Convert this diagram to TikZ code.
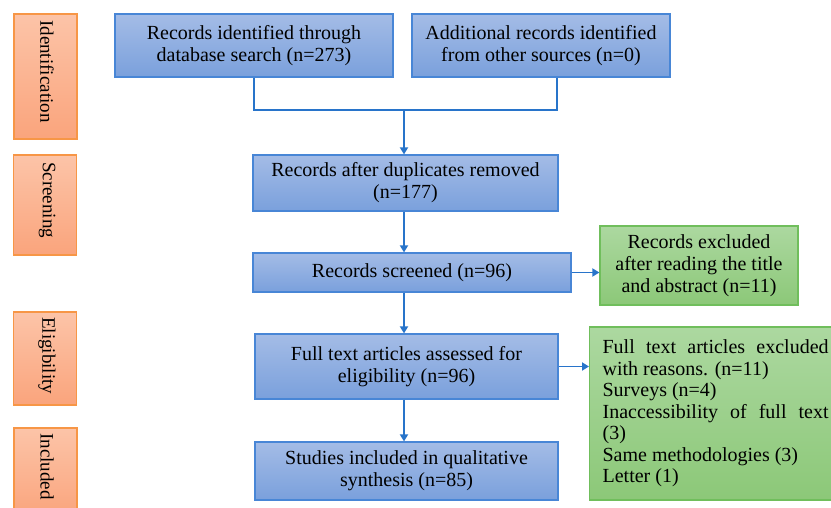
\documentclass[tikz,border=0pt]{standalone}
\usepackage{fontspec}
\setmainfont{Liberation Serif}
\usetikzlibrary{arrows.meta}
\definecolor{bluetop}{RGB}{164,188,230}
\definecolor{bluebot}{RGB}{122,160,220}
\definecolor{blueline}{RGB}{72,134,214}
\definecolor{orangetop}{RGB}{252,196,168}
\definecolor{orangebot}{RGB}{250,164,124}
\definecolor{orangeline}{RGB}{247,150,70}
\definecolor{greentop}{RGB}{172,216,160}
\definecolor{greenbot}{RGB}{140,200,120}
\definecolor{greenline}{RGB}{112,190,92}
\definecolor{arrowblue}{RGB}{40,116,202}
\begin{document}
\begin{tikzpicture}[x=1pt,y=-1pt,
  every node/.style={font=\fontsize{20}{22}\selectfont, inner sep=0pt},
  flowbox/.style={draw=blueline, line width=1.2pt, top color=bluetop, bottom color=bluebot, align=center},
  phasebox/.style={draw=orangeline, line width=1.2pt, top color=orangetop, bottom color=orangebot, minimum width=63pt},
  phaselabel/.style={rotate=-90, anchor=west, font=\fontsize{19}{21}\selectfont},
  exclbox/.style={draw=greenline, line width=1.2pt, top color=greentop, bottom color=greenbot},
  conn/.style={draw=arrowblue, line width=1.8pt},
  arr/.style={conn, -{Triangle[width=8pt,length=7pt]}}
]
\useasboundingbox (0,0) rectangle (831,507);
\clip (0,0) rectangle (831,507);

% phase boxes on the left
\node[phasebox, minimum height=125pt] (pid) at (45.5,76.5) {};
\node[phasebox, minimum height=100pt] (pscr) at (45,205) {};
\node[phasebox, minimum height=93pt] (pel) at (45,358.5) {};
\node[phasebox, minimum height=90pt] (pinc) at (45.5,473) {};
\node[phaselabel] (lid) at (47,20) {Identification};
\node[phaselabel] (lscr) at (47,162) {Screening};
\node[phaselabel] (lel) at (47,317) {Eligibility};
\node[phaselabel] (linc) at (47,433) {Included};

% flow boxes
\node[flowbox, minimum width=278pt, minimum height=63pt] (b1) at (254,45.5)
  {Records identified through\\database search (n=273)};
\node[flowbox, minimum width=258pt, minimum height=63pt] (b2) at (541,45.5)
  {Additional records identified\\from other sources (n=0)};
\node[flowbox, minimum width=305pt, minimum height=56pt] (b3) at (405.5,183)
  {Records after duplicates removed\\(n=177)};
\node[flowbox, minimum width=318pt, minimum height=39pt] (b4) at (412,272.5)
  {Records screened (n=96)};
\node[flowbox, minimum width=303pt, minimum height=65pt] (b5) at (406.5,366.5)
  {Full text articles assessed for\\eligibility (n=96)};
\node[flowbox, minimum width=303pt, minimum height=58pt] (b6) at (406.5,471)
  {Studies included in qualitative\\synthesis (n=85)};

% exclusion boxes
\node[exclbox, align=center, minimum width=198pt, minimum height=79pt] (g1) at (699,265.5)
  {Records excluded\\after reading the title\\and abstract (n=11)};
\node[exclbox, anchor=west, inner xsep=13pt, inner ysep=0pt, minimum height=173pt,
      text width=226pt, align=justify, font=\fontsize{20}{21.5}\selectfont] (g2) at (589,413.5)
  {Full text articles excluded\linebreak with reasons. (n=11)\par
   Surveys (n=4)\par
   Inaccessibility of full text\linebreak (3)\par
   Same methodologies (3)\par
   Letter (1)};

% connectors
\coordinate (join) at (404,110);
\draw[conn] (b1.south) |- (join);
\draw[conn] ([xshift=16pt]b2.south) |- (join);
\draw[arr] (join) -- (join |- b3.north);
\draw[arr] (join |- b3.south) -- (join |- b4.north);
\draw[arr] (join |- b4.south) -- (join |- b5.north);
\draw[arr] (join |- b5.south) -- (join |- b6.north);
\draw[arr] (b4.east) -- (b4.east -| g1.west);
\draw[arr] (b5.east) -- (b5.east -| g2.west);
\end{tikzpicture}
\end{document}
